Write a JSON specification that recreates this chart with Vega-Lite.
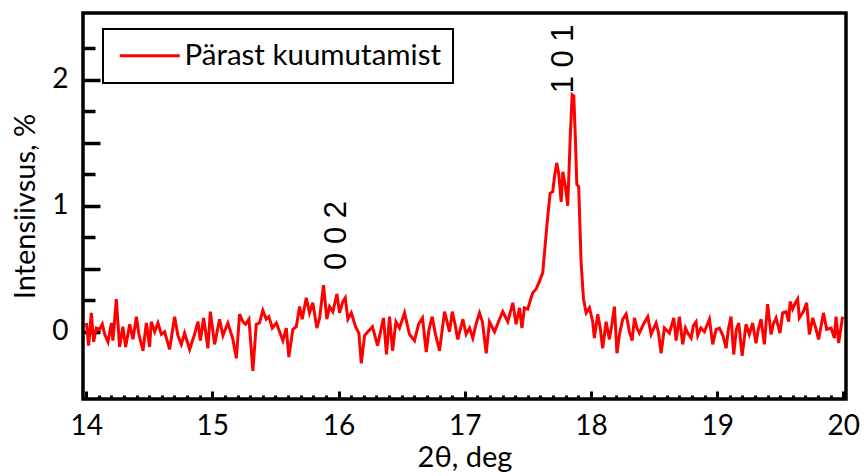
{
  "$schema": "https://vega.github.io/schema/vega-lite/v6.json",
  "width": 763,
  "height": 386,
  "autosize": {"type": "none"},
  "padding": {"left": 83, "top": 13, "right": 18, "bottom": 77},
  "background": "white",
  "config": {
    "view": {"stroke": "black", "strokeWidth": 3.5},
    "axis": {
      "grid": false,
      "domain": false,
      "labelFont": "Lato",
      "labelFontSize": 28,
      "labelColor": "black",
      "titleFont": "Lato",
      "titleFontSize": 29,
      "titleFontWeight": "normal",
      "titleColor": "black",
      "tickColor": "black",
      "tickWidth": 3
    },
    "legend": {"strokeWidth": 2}
  },
  "datasets": {
    "scan": [
      {"theta": 14.002, "intensity": 0.07}, {"theta": 14.020, "intensity": -0.11}, {"theta": 14.041, "intensity": 0.15},
      {"theta": 14.059, "intensity": -0.08}, {"theta": 14.081, "intensity": 0.03}, {"theta": 14.107, "intensity": 0.02},
      {"theta": 14.128, "intensity": 0.06}, {"theta": 14.147, "intensity": -0.02}, {"theta": 14.173, "intensity": -0.08},
      {"theta": 14.200, "intensity": 0.07}, {"theta": 14.212, "intensity": -0.07}, {"theta": 14.239, "intensity": 0.26},
      {"theta": 14.265, "intensity": -0.12}, {"theta": 14.291, "intensity": 0.04}, {"theta": 14.313, "intensity": -0.12},
      {"theta": 14.345, "intensity": 0.06}, {"theta": 14.371, "intensity": -0.06}, {"theta": 14.398, "intensity": 0.12},
      {"theta": 14.418, "intensity": -0.02}, {"theta": 14.450, "intensity": -0.15}, {"theta": 14.477, "intensity": 0.07},
      {"theta": 14.503, "intensity": -0.12}, {"theta": 14.516, "intensity": 0.08}, {"theta": 14.543, "intensity": 0.00},
      {"theta": 14.569, "intensity": 0.07}, {"theta": 14.596, "intensity": -0.02}, {"theta": 14.622, "intensity": 0.00},
      {"theta": 14.661, "intensity": -0.14}, {"theta": 14.701, "intensity": 0.12}, {"theta": 14.727, "intensity": -0.03},
      {"theta": 14.754, "intensity": -0.10}, {"theta": 14.780, "intensity": -0.01}, {"theta": 14.820, "intensity": -0.14},
      {"theta": 14.859, "intensity": -0.02}, {"theta": 14.886, "intensity": 0.08}, {"theta": 14.905, "intensity": -0.07},
      {"theta": 14.931, "intensity": 0.11}, {"theta": 14.965, "intensity": -0.13}, {"theta": 14.984, "intensity": 0.16},
      {"theta": 15.018, "intensity": -0.10}, {"theta": 15.057, "intensity": 0.10}, {"theta": 15.084, "intensity": -0.03},
      {"theta": 15.123, "intensity": 0.07}, {"theta": 15.163, "intensity": -0.06}, {"theta": 15.190, "intensity": -0.21},
      {"theta": 15.216, "intensity": 0.14}, {"theta": 15.242, "intensity": 0.08}, {"theta": 15.263, "intensity": 0.06},
      {"theta": 15.290, "intensity": 0.10}, {"theta": 15.321, "intensity": -0.31}, {"theta": 15.348, "intensity": 0.06},
      {"theta": 15.374, "intensity": 0.07}, {"theta": 15.400, "intensity": 0.17}, {"theta": 15.427, "intensity": 0.10},
      {"theta": 15.448, "intensity": 0.12}, {"theta": 15.475, "intensity": 0.03}, {"theta": 15.507, "intensity": 0.07},
      {"theta": 15.533, "intensity": 0.00}, {"theta": 15.559, "intensity": -0.07}, {"theta": 15.586, "intensity": 0.03},
      {"theta": 15.606, "intensity": -0.20}, {"theta": 15.638, "intensity": 0.02}, {"theta": 15.665, "intensity": 0.04},
      {"theta": 15.691, "intensity": 0.20}, {"theta": 15.712, "intensity": 0.10}, {"theta": 15.744, "intensity": 0.27},
      {"theta": 15.770, "intensity": 0.15}, {"theta": 15.796, "intensity": 0.23}, {"theta": 15.828, "intensity": 0.03},
      {"theta": 15.850, "intensity": 0.11}, {"theta": 15.881, "intensity": 0.37}, {"theta": 15.907, "intensity": 0.10},
      {"theta": 15.929, "intensity": 0.20}, {"theta": 15.955, "intensity": 0.16}, {"theta": 15.987, "intensity": 0.30},
      {"theta": 16.008, "intensity": 0.15}, {"theta": 16.034, "intensity": 0.24}, {"theta": 16.053, "intensity": 0.27},
      {"theta": 16.074, "intensity": 0.10}, {"theta": 16.101, "intensity": 0.15}, {"theta": 16.135, "intensity": 0.04},
      {"theta": 16.161, "intensity": -0.01}, {"theta": 16.180, "intensity": -0.25}, {"theta": 16.206, "intensity": -0.03},
      {"theta": 16.232, "intensity": 0.00}, {"theta": 16.269, "intensity": 0.04}, {"theta": 16.309, "intensity": -0.11},
      {"theta": 16.356, "intensity": 0.11}, {"theta": 16.380, "intensity": -0.18}, {"theta": 16.404, "intensity": 0.12},
      {"theta": 16.428, "intensity": -0.15}, {"theta": 16.455, "intensity": 0.08}, {"theta": 16.483, "intensity": 0.03},
      {"theta": 16.523, "intensity": 0.15}, {"theta": 16.562, "intensity": -0.02}, {"theta": 16.602, "intensity": -0.07},
      {"theta": 16.634, "intensity": 0.06}, {"theta": 16.665, "intensity": 0.11}, {"theta": 16.695, "intensity": -0.16},
      {"theta": 16.717, "intensity": 0.02}, {"theta": 16.742, "intensity": 0.12}, {"theta": 16.768, "intensity": -0.02},
      {"theta": 16.800, "intensity": -0.15}, {"theta": 16.840, "intensity": 0.16}, {"theta": 16.879, "intensity": 0.00},
      {"theta": 16.901, "intensity": 0.16}, {"theta": 16.923, "intensity": 0.06}, {"theta": 16.945, "intensity": -0.06},
      {"theta": 16.985, "intensity": 0.10}, {"theta": 17.011, "intensity": -0.02}, {"theta": 17.038, "intensity": 0.03},
      {"theta": 17.064, "intensity": -0.05}, {"theta": 17.089, "intensity": 0.06}, {"theta": 17.117, "intensity": 0.15},
      {"theta": 17.140, "intensity": 0.08}, {"theta": 17.170, "intensity": -0.17}, {"theta": 17.196, "intensity": 0.08},
      {"theta": 17.236, "intensity": 0.00}, {"theta": 17.275, "intensity": 0.10}, {"theta": 17.301, "intensity": 0.16},
      {"theta": 17.341, "intensity": 0.08}, {"theta": 17.381, "intensity": 0.23}, {"theta": 17.407, "intensity": 0.06},
      {"theta": 17.434, "intensity": 0.19}, {"theta": 17.453, "intensity": 0.03}, {"theta": 17.473, "intensity": 0.19},
      {"theta": 17.499, "intensity": 0.18}, {"theta": 17.526, "intensity": 0.27}, {"theta": 17.539, "intensity": 0.31},
      {"theta": 17.566, "intensity": 0.34}, {"theta": 17.592, "intensity": 0.40}, {"theta": 17.618, "intensity": 0.47},
      {"theta": 17.632, "intensity": 0.63}, {"theta": 17.658, "intensity": 0.92}, {"theta": 17.677, "intensity": 1.10},
      {"theta": 17.697, "intensity": 1.11}, {"theta": 17.711, "intensity": 1.23}, {"theta": 17.729, "intensity": 1.34},
      {"theta": 17.745, "intensity": 1.25}, {"theta": 17.764, "intensity": 1.03}, {"theta": 17.777, "intensity": 1.27},
      {"theta": 17.798, "intensity": 1.15}, {"theta": 17.816, "intensity": 1.00}, {"theta": 17.835, "intensity": 1.52},
      {"theta": 17.851, "intensity": 1.88}, {"theta": 17.864, "intensity": 1.87}, {"theta": 17.877, "intensity": 1.52},
      {"theta": 17.888, "intensity": 1.17}, {"theta": 17.903, "intensity": 1.15}, {"theta": 17.922, "intensity": 0.55},
      {"theta": 17.941, "intensity": 0.26}, {"theta": 17.962, "intensity": 0.15}, {"theta": 17.988, "intensity": 0.19},
      {"theta": 18.014, "intensity": 0.08}, {"theta": 18.027, "intensity": -0.05}, {"theta": 18.054, "intensity": 0.14},
      {"theta": 18.075, "intensity": 0.02}, {"theta": 18.093, "intensity": -0.13}, {"theta": 18.120, "intensity": 0.08},
      {"theta": 18.146, "intensity": -0.06}, {"theta": 18.166, "intensity": 0.06}, {"theta": 18.186, "intensity": 0.20},
      {"theta": 18.206, "intensity": -0.17}, {"theta": 18.226, "intensity": -0.02}, {"theta": 18.252, "intensity": 0.10},
      {"theta": 18.279, "intensity": 0.14}, {"theta": 18.305, "intensity": 0.00}, {"theta": 18.326, "intensity": -0.07},
      {"theta": 18.345, "intensity": 0.11}, {"theta": 18.364, "intensity": 0.03}, {"theta": 18.384, "intensity": -0.01},
      {"theta": 18.416, "intensity": 0.06}, {"theta": 18.450, "intensity": 0.12}, {"theta": 18.477, "intensity": -0.02},
      {"theta": 18.516, "intensity": 0.07}, {"theta": 18.534, "intensity": 0.00}, {"theta": 18.556, "intensity": -0.17},
      {"theta": 18.582, "intensity": 0.03}, {"theta": 18.622, "intensity": -0.01}, {"theta": 18.656, "intensity": 0.11},
      {"theta": 18.675, "intensity": -0.07}, {"theta": 18.701, "intensity": 0.12}, {"theta": 18.727, "intensity": -0.10},
      {"theta": 18.749, "intensity": 0.03}, {"theta": 18.767, "intensity": -0.01}, {"theta": 18.794, "intensity": -0.05},
      {"theta": 18.812, "intensity": 0.05}, {"theta": 18.833, "intensity": 0.08}, {"theta": 18.846, "intensity": -0.03},
      {"theta": 18.871, "intensity": 0.03}, {"theta": 18.899, "intensity": 0.00}, {"theta": 18.939, "intensity": 0.10},
      {"theta": 18.965, "intensity": -0.10}, {"theta": 18.992, "intensity": 0.02}, {"theta": 19.018, "intensity": 0.03},
      {"theta": 19.046, "intensity": -0.03}, {"theta": 19.071, "intensity": -0.13}, {"theta": 19.089, "intensity": 0.02},
      {"theta": 19.110, "intensity": 0.12}, {"theta": 19.131, "intensity": -0.18}, {"theta": 19.152, "intensity": 0.02},
      {"theta": 19.171, "intensity": 0.07}, {"theta": 19.198, "intensity": -0.19}, {"theta": 19.229, "intensity": 0.06},
      {"theta": 19.255, "intensity": -0.02}, {"theta": 19.281, "intensity": 0.07}, {"theta": 19.308, "intensity": -0.09},
      {"theta": 19.326, "intensity": 0.02}, {"theta": 19.348, "intensity": 0.10}, {"theta": 19.374, "intensity": -0.10},
      {"theta": 19.400, "intensity": 0.22}, {"theta": 19.427, "intensity": -0.02}, {"theta": 19.445, "intensity": 0.06},
      {"theta": 19.467, "intensity": 0.11}, {"theta": 19.498, "intensity": -0.01}, {"theta": 19.519, "intensity": 0.15},
      {"theta": 19.546, "intensity": 0.16}, {"theta": 19.567, "intensity": 0.08}, {"theta": 19.578, "intensity": 0.24},
      {"theta": 19.598, "intensity": 0.18}, {"theta": 19.620, "intensity": 0.23}, {"theta": 19.638, "intensity": 0.26},
      {"theta": 19.651, "intensity": 0.11}, {"theta": 19.683, "intensity": 0.16}, {"theta": 19.709, "intensity": 0.23},
      {"theta": 19.731, "intensity": -0.02}, {"theta": 19.757, "intensity": 0.11}, {"theta": 19.784, "intensity": 0.02},
      {"theta": 19.804, "intensity": -0.06}, {"theta": 19.826, "intensity": 0.06}, {"theta": 19.842, "intensity": 0.15},
      {"theta": 19.868, "intensity": 0.02}, {"theta": 19.903, "intensity": 0.03}, {"theta": 19.929, "intensity": -0.05},
      {"theta": 19.942, "intensity": 0.12}, {"theta": 19.963, "intensity": -0.09}, {"theta": 19.994, "intensity": 0.12}
    ],
    "reflections": [
      {"theta": 15.988, "intensity": 0.764, "label": "0 0 2"},
      {"theta": 17.788, "intensity": 2.165, "label": "1 0 1"}
    ]
  },
  "layer": [
    {
      "data": {"name": "scan"},
      "mark": {"type": "line", "color": "#ff0000", "strokeWidth": 3, "clip": true},
      "encoding": {
        "x": {
          "field": "theta", "type": "quantitative",
          "scale": {"domain": [13.975, 20.021], "nice": false, "zero": false},
          "axis": {
            "orient": "bottom", "values": [14, 15, 16, 17, 18, 19, 20], "format": "d",
            "tickSize": -8, "labelPadding": 21, "title": "2θ, deg", "titlePadding": 3
          }
        },
        "y": {
          "field": "intensity", "type": "quantitative",
          "scale": {"domain": [-0.533, 2.529], "nice": false, "zero": false},
          "axis": {
            "orient": "left", "values": [0, 0.5, 1, 1.5, 2],
            "labelExpr": "datum.value % 1 === 0 ? format(datum.value, 'd') : ''",
            "tickSize": -17, "tickWidth": 3.5, "labelPadding": 32,
            "title": "Intensiivsus, %", "titlePadding": 11
          }
        },
        "color": {
          "datum": "Pärast kuumutamist",
          "scale": {"range": ["#ff0000"]},
          "legend": {
            "orient": "none", "legendX": 20, "legendY": 16, "title": null,
            "symbolType": "M-1,0H5", "symbolSize": 400, "symbolStrokeWidth": 3,
            "labelFont": "Lato", "labelFontSize": 29.5, "labelColor": "black",
            "labelOffset": 40, "labelLimit": 0, "padding": 12,
            "strokeColor": "black", "fillColor": "white"
          }
        }
      }
    },
    {
      "data": {"name": "scan"},
      "mark": {"type": "line", "opacity": 0},
      "encoding": {
        "x": {
          "field": "theta", "type": "quantitative",
          "axis": {
            "orient": "bottom", "title": null, "labels": false,
            "values": [14.1, 14.2, 14.3, 14.4, 14.5, 14.6, 14.7, 14.8, 14.9,
                       15.1, 15.2, 15.3, 15.4, 15.5, 15.6, 15.7, 15.8, 15.9,
                       16.1, 16.2, 16.3, 16.4, 16.5, 16.6, 16.7, 16.8, 16.9,
                       17.1, 17.2, 17.3, 17.4, 17.5, 17.6, 17.7, 17.8, 17.9,
                       18.1, 18.2, 18.3, 18.4, 18.5, 18.6, 18.7, 18.8, 18.9,
                       19.1, 19.2, 19.3, 19.4, 19.5, 19.6, 19.7, 19.8, 19.9],
            "tickSize": -4
          }
        },
        "y": {
          "field": "intensity", "type": "quantitative",
          "axis": {
            "orient": "left", "title": null, "labels": false,
            "values": [0.25, 0.75, 1.25, 1.75, 2.25],
            "tickSize": -12, "tickWidth": 3.5
          }
        }
      }
    },
    {
      "data": {"name": "reflections"},
      "mark": {"type": "text", "font": "Liberation Sans", "fontSize": 31, "angle": 270, "align": "center", "baseline": "middle", "color": "black"},
      "encoding": {
        "x": {"field": "theta", "type": "quantitative", "axis": null},
        "y": {"field": "intensity", "type": "quantitative", "axis": null},
        "text": {"field": "label"}
      }
    }
  ],
  "resolve": {"axis": {"x": "independent", "y": "independent"}}
}
